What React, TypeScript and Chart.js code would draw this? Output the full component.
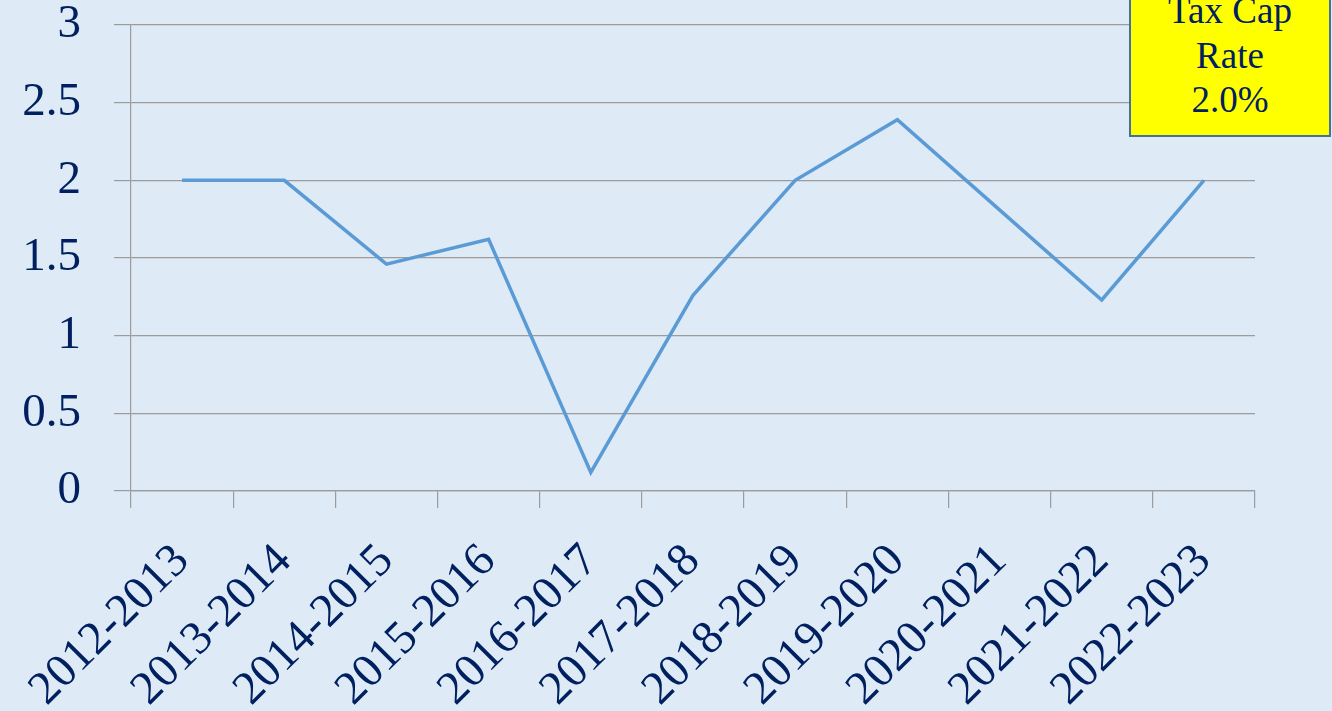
import React, { useEffect, useRef } from "react";
import { Chart, registerables } from "chart.js";

Chart.register(...registerables);

const categories: string[] = [
  "2012-2013",
  "2013-2014",
  "2014-2015",
  "2015-2016",
  "2016-2017",
  "2017-2018",
  "2018-2019",
  "2019-2020",
  "2020-2021",
  "2021-2022",
  "2022-2023",
];

const rates: number[] = [2.0, 2.0, 1.46, 1.62, 0.12, 1.26, 2.0, 2.39, 1.81, 1.23, 2.0];

const yTicks: number[] = [0, 0.5, 1, 1.5, 2, 2.5, 3];

const noteLines: string[] = ["Tax Cap", "Rate", "2.0%"];

const BG = "#deeaf6";
const TEXT = "#002060";
const GRID = "#9c9c9c";
const LINE = "#5b9bd5";
const FONT = "'Liberation Serif', 'Times New Roman', serif";

export default function App() {
  const canvasRef = useRef<HTMLCanvasElement | null>(null);

  useEffect(() => {
    const canvas = canvasRef.current;
    if (!canvas) return;
    const chart = new Chart(canvas, {
      type: "line",
      data: {
        labels: categories,
        datasets: [
          {
            data: rates,
            borderColor: LINE,
            borderWidth: 3.5,
            pointRadius: 0,
            pointHoverRadius: 0,
            tension: 0,
            fill: false,
          },
        ],
      },
      options: {
        animation: false,
        responsive: false,
        maintainAspectRatio: false,
        layout: { padding: { left: 0, right: 77, top: 25, bottom: 0 } },
        plugins: {
          legend: { display: false },
          tooltip: { enabled: false },
        },
        scales: {
          x: {
            type: "category",
            offset: true,
            grid: {
              display: true,
              offset: true,
              drawOnChartArea: false,
              drawTicks: true,
              tickLength: 17,
              color: GRID,
              lineWidth: 1.2,
            },
            border: { display: true, color: GRID, width: 1.2 },
            ticks: {
              autoSkip: false,
              minRotation: 45,
              maxRotation: 45,
              padding: 29,
              color: TEXT,
              font: { family: FONT, size: 47, lineHeight: 1.0 },
            },
            afterFit: (scale: any) => {
              scale.height = 220;
              scale.paddingLeft = 0;
              scale.paddingRight = 0;
              scale.paddingTop = 0;
              scale.paddingBottom = 0;
            },
          },
          y: {
            type: "linear",
            min: 0,
            max: 3,
            afterBuildTicks: (scale: any) => {
              scale.ticks = yTicks.map((v) => ({ value: v }));
            },
            grid: {
              display: true,
              drawTicks: true,
              tickLength: 17,
              color: GRID,
              lineWidth: 1.2,
            },
            border: { display: true, color: GRID, width: 1.2 },
            ticks: {
              padding: 33,
              color: TEXT,
              font: { family: FONT, size: 47, lineHeight: 1.0 },
              callback: (v: any) => String(v),
            },
            afterFit: (scale: any) => {
              scale.width = 131;
              scale.paddingTop = 0;
              scale.paddingBottom = 0;
              scale.paddingLeft = 0;
              scale.paddingRight = 0;
            },
          },
        },
      },
    });
    return () => chart.destroy();
  }, []);

  return (
    <div
      style={{
        position: "fixed",
        left: 0,
        top: 0,
        width: 1332,
        height: 711,
        background: BG,
        overflow: "hidden",
      }}
    >
      <canvas ref={canvasRef} width={1332} height={711} style={{ display: "block" }} />
      <div
        style={{
          position: "absolute",
          left: 1129,
          top: -20,
          width: 202,
          height: 157,
          boxSizing: "border-box",
          background: "#ffff00",
          border: "2px solid #41719c",
        }}
      />
      <div
        style={{
          position: "absolute",
          left: 1129,
          top: -11,
          width: 202,
          textAlign: "center",
          fontFamily: FONT,
          fontSize: 37,
          lineHeight: "44.5px",
          color: TEXT,
        }}
      >
        {noteLines.map((l, i) => (
          <div key={i}>{l}</div>
        ))}
      </div>
    </div>
  );
}
